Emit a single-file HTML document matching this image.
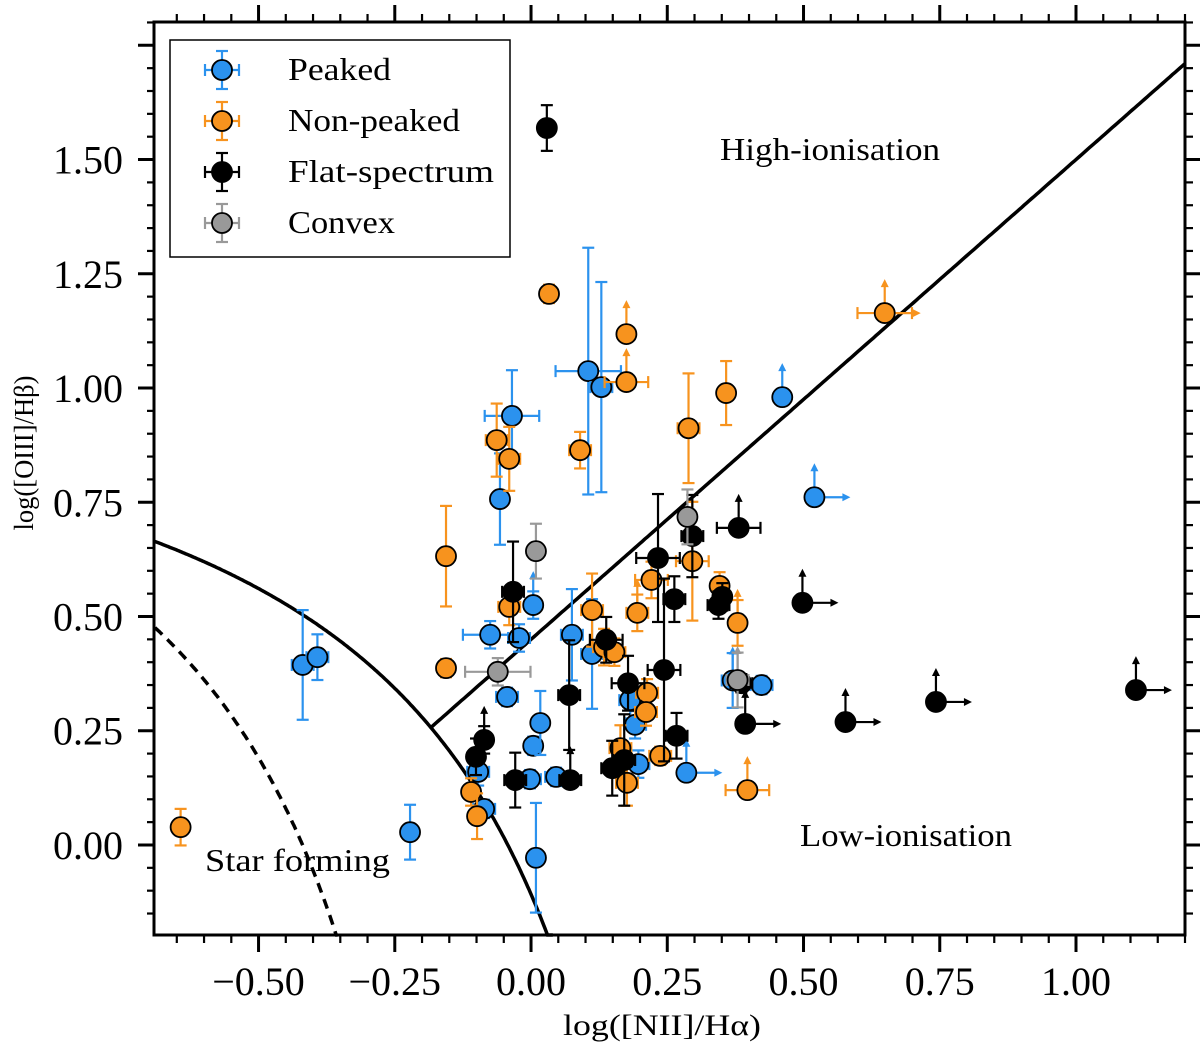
<!DOCTYPE html>
<html><head><meta charset="utf-8"><style>
html,body{margin:0;padding:0;background:#fff;}
svg text{font-family:"Liberation Serif",serif;fill:#000;}
</style></head><body>
<svg id="chart" width="1200" height="1052" xmlns="http://www.w3.org/2000/svg">
<g id="lines"></g>
<g id="marks"></g>
<rect x="154" y="22" width="1031" height="913" fill="none" stroke="#000" stroke-width="3"/>
<g id="ticks"></g>
<text x="662" y="1035" font-size="30" text-anchor="middle" textLength="198" lengthAdjust="spacingAndGlyphs">log([NII]/Hα)</text>
<text transform="translate(33,453) rotate(-90)" font-size="27" text-anchor="middle" textLength="155" lengthAdjust="spacingAndGlyphs">log([OIII]/Hβ)</text>
<text x="720" y="160" font-size="32" textLength="220" lengthAdjust="spacingAndGlyphs">High-ionisation</text>
<text x="800" y="846" font-size="32" textLength="212" lengthAdjust="spacingAndGlyphs">Low-ionisation</text>
<text x="205" y="871" font-size="32" textLength="185" lengthAdjust="spacingAndGlyphs">Star forming</text>
<g>
<rect x="170" y="40" width="340" height="217" fill="#fff" stroke="#000" stroke-width="1.5"/>
<g id="legend-items"></g>
</g>
</svg>
<script>
const NS="http://www.w3.org/2000/svg";
const X0=155,X1=1185,Y0=22,Y1=935;
const xMin=-0.69,xMax=1.2,yMin=-0.197,yMax=1.801;
function sx(v){return X0+(v-xMin)/(xMax-xMin)*(X1-X0);}
function sy(v){return Y1-(v-yMin)/(yMax-yMin)*(Y1-Y0);}
function mk(tag,attrs,parent){const e=document.createElementNS(NS,tag);for(const k in attrs)e.setAttribute(k,attrs[k]);parent.appendChild(e);return e;}

const xTicks=[-0.5,-0.25,0,0.25,0.5,0.75,1.0];
const xTickLabels=["−0.50","−0.25","0.00","0.25","0.50","0.75","1.00"];
const yTicks=[0,0.25,0.5,0.75,1.0,1.25,1.5];
const yTickLabels=["0.00","0.25","0.50","0.75","1.00","1.25","1.50"];

// Peaked
const pkX=[-0.419,-0.392,-0.222,-0.097,-0.086,-0.075,-0.057,-0.044,-0.035,-0.022,-0.002,0.004,0.004,0.009,0.017,0.046,0.075,0.105,0.112,0.129,0.182,0.191,0.197,0.285,0.461,0.52,0.423,0.37];
const pkY=[0.394,0.411,0.028,0.16,0.079,0.46,0.757,0.324,0.939,0.453,0.144,0.217,0.525,-0.028,0.267,0.149,0.46,1.037,0.418,1.002,0.317,0.263,0.177,0.158,0.98,0.761,0.35,0.36];
const pkXe=[0.02,0.02,0.01,0.02,0.02,0.05,0.01,0.02,0.05,0.02,0.02,0.01,0.01,0.01,0.01,0.02,0.02,0.06,0.02,0.02,0.02,0.02,0.02,0,0,0,0.02,0.02];
const pkYe=[0.12,0.05,0.06,0.03,0.02,0.03,0.1,0.02,0.1,0.03,0.02,0.02,0.03,0.12,0.07,0.02,0.1,0.27,0.12,0.23,0.04,0.03,0.03,0,0,0,0.02,0.06];
const pkUp=[0,0,0,0,0,0,0,0,0,0,0,0,1,0,0,0,0,0,0,0,0,0,0,1,1,1,0,1];
const pkRt=[0,0,0,0,0,0,0,0,0,0,0,0,0,0,0,0,0,0,0,0,0,0,0,1,0,1,0,0];
// Non-peaked
const npX=[-0.643,-0.156,-0.156,-0.110,-0.099,-0.063,-0.040,-0.040,0.033,0.09,0.112,0.134,0.153,0.175,0.175,0.164,0.176,0.195,0.213,0.211,0.221,0.237,0.289,0.296,0.358,0.346,0.379,0.397,0.649];
const npY=[0.039,0.632,0.387,0.116,0.063,0.886,0.845,0.521,1.206,0.864,0.514,0.433,0.422,1.118,1.013,0.212,0.136,0.508,0.333,0.291,0.58,0.195,0.912,0.621,0.989,0.567,0.486,0.12,1.164];
const npXe=[0.01,0.01,0.01,0.01,0.01,0.02,0.02,0.02,0.01,0.02,0.02,0.02,0.02,0,0.04,0.02,0.02,0.02,0.02,0.02,0.03,0.02,0.02,0.03,0.01,0.01,0.01,0.04,0.05];
const npYe=[0.04,0.11,0.02,0.03,0.05,0.08,0.07,0.04,0.02,0.04,0.08,0.04,0.03,0,0,0.05,0.05,0.04,0.03,0.03,0.04,0.02,0.12,0.13,0.07,0.03,0.05,0,0];
const npUp=[0,0,0,0,0,0,0,0,0,0,0,0,0,1,1,0,0,1,0,0,0,0,0,0,0,0,1,1,1];
const npRt=[0,0,0,0,0,0,0,0,0,0,0,0,0,0,0,0,0,0,0,0,0,0,0,0,0,0,0,0,1];
// Flat-spectrum
const fsX=[0.029,-0.101,-0.086,-0.033,-0.029,0.07,0.072,0.138,0.149,0.171,0.178,0.233,0.244,0.263,0.267,0.296,0.344,0.351,0.381,0.393,0.498,0.577,0.743,1.11,0.386];
const fsY=[1.569,0.193,0.23,0.554,0.142,0.328,0.142,0.449,0.168,0.186,0.354,0.628,0.383,0.538,0.239,0.676,0.525,0.543,0.694,0.265,0.53,0.269,0.313,0.339,0.354];
const fsXe=[0.01,0.01,0.01,0.02,0.02,0.02,0.02,0.03,0.02,0.02,0.03,0.04,0.03,0.02,0.02,0.02,0.02,0.01,0.04,0,0,0,0,0,0.02];
const fsYe=[0.05,0.04,0.03,0.11,0.06,0.12,0,0.05,0.06,0.1,0.06,0.14,0.2,0.05,0.05,0.09,0.03,0.03,0,0,0,0,0,0,0.02];
const fsUp=[0,0,1,0,0,0,1,0,0,0,0,0,0,0,0,0,0,0,1,1,1,1,1,1,0];
const fsRt=[0,0,0,0,0,0,0,0,0,0,0,0,0,0,0,0,0,0,0,1,1,1,1,1,0];
// Convex
const cvX=[-0.061,0.009,0.287,0.379];
const cvY=[0.379,0.643,0.718,0.361];
const cvXe=[0.06,0.01,0.01,0.02];
const cvYe=[0.03,0.06,0.06,0.06];
const cvUp=[0,0,0,1];
const cvRt=[0,0,0,0];

const series=[
 {name:"peaked",label:"Peaked",tlen:103,fill:"#2b92ee",ec:"#2b92ee",x:pkX,y:pkY,xe:pkXe,ye:pkYe,up:pkUp,rt:pkRt},
 {name:"non-peaked",label:"Non-peaked",tlen:172,fill:"#f7931e",ec:"#f7931e",x:npX,y:npY,xe:npXe,ye:npYe,up:npUp,rt:npRt},
 {name:"flat-spectrum",label:"Flat-spectrum",tlen:206,fill:"#000",ec:"#000",x:fsX,y:fsY,xe:fsXe,ye:fsYe,up:fsUp,rt:fsRt},
 {name:"convex",label:"Convex",tlen:107,fill:"#999",ec:"#999",x:cvX,y:cvY,xe:cvXe,ye:cvYe,up:cvUp,rt:cvRt}
];

const lines=document.getElementById('lines');
function curve(f,a,b,dash,name){let d="";let first=true;for(let i=0;i<=300;i++){const x=a+(b-a)*i/300;const y=f(x);if(y<yMin-0.05||y>yMax)continue;d+=(first?"M":"L")+sx(x).toFixed(1)+","+sy(Math.max(y,yMin)).toFixed(1);first=false;}
 const p=mk('path',{d:d,fill:"none",stroke:"#000","stroke-width":3.5,"stroke-dasharray":dash?"10,7":"none"},lines);
 
 }
curve(x=>0.61/(x-0.47)+1.19,xMin,0.04,false,"kewley-line");
curve(x=>0.61/(x-0.05)+1.3,xMin,-0.355,true,"kauffmann-line");
curve(x=>1.05*x+0.45,-0.183,xMax,false,"seyfert-liner-line");

const marks=document.getElementById('marks');
series.forEach(s=>{
 const g=mk('g',{},marks);
 
 
 for(let i=0;i<s.x.length;i++){
  const pg=mk('g',{},g);
  
  
  const cx=s.x[i],cy=s.y[i],ye=s.ye[i],xe=s.xe[i],ec=s.ec,w=2.2,px=sx(cx),py=sy(cy);
  if(ye>0){mk('line',{x1:px,y1:sy(cy-ye),x2:px,y2:sy(cy+ye),stroke:ec,"stroke-width":w},pg);
   [cy-ye,cy+ye].forEach(v=>mk('line',{x1:px-6,x2:px+6,y1:sy(v),y2:sy(v),stroke:ec,"stroke-width":w},pg));}
  if(xe>0){mk('line',{x1:sx(cx-xe),y1:py,x2:sx(cx+xe),y2:py,stroke:ec,"stroke-width":w},pg);
   [cx-xe,cx+xe].forEach(v=>mk('line',{x1:sx(v),x2:sx(v),y1:py-6,y2:py+6,stroke:ec,"stroke-width":w},pg));}
  if(s.up[i]){mk('line',{x1:px,y1:py,x2:px,y2:py-28,stroke:ec,"stroke-width":w},pg);mk('path',{d:`M${px-4},${py-26}L${px},${py-34}L${px+4},${py-26}Z`,fill:ec},pg);}
  if(s.rt[i]){mk('line',{x1:px,y1:py,x2:px+30,y2:py,stroke:ec,"stroke-width":w},pg);mk('path',{d:`M${px+28},${py-4}L${px+36},${py}L${px+28},${py+4}Z`,fill:ec},pg);}
  mk('circle',{cx:px,cy:py,r:10,fill:s.fill,stroke:"#000","stroke-width":1.8},pg);
 }
});

const tk=document.getElementById('ticks');
function tl(x1,y1,x2,y2,w){mk('line',{x1,y1,x2,y2,stroke:"#000","stroke-width":w},tk);}
for(let v=-0.65;v<=1.2001;v+=0.05){const r=Math.round(v*100)/100;const px=sx(r);const major=Math.abs(r*4-Math.round(r*4))<1e-6;const L=major?17:8;const w=major?3:2.2;tl(px,Y1,px,Y1+L,w);tl(px,Y0,px,Y0-L,w);}
for(let v=-0.15;v<=1.8001;v+=0.05){const r=Math.round(v*100)/100;const py=sy(r);const major=Math.abs(r*4-Math.round(r*4))<1e-6;const L=major?17:8;const w=major?3:2.2;tl(X0,py,X0-L,py,w);tl(X1,py,X1+L,py,w);}
xTicks.forEach((v,i)=>{const t=mk('text',{x:sx(v),y:995,"font-size":40,"text-anchor":"middle"},tk);t.textContent=xTickLabels[i];
 
 });
yTicks.forEach((v,i)=>{const t=mk('text',{x:123,y:sy(v)+14,"font-size":40,"text-anchor":"end"},tk);t.textContent=yTickLabels[i];
 
 });

const lg=document.getElementById('legend-items');
series.forEach((s,i)=>{const y=70+i*51;const g=mk('g',{},lg);
 
 
 mk('line',{x1:222,x2:222,y1:y-19,y2:y+19,stroke:s.ec,"stroke-width":2.2},g);
 mk('line',{x1:216,x2:228,y1:y-19,y2:y-19,stroke:s.ec,"stroke-width":2.2},g);
 mk('line',{x1:216,x2:228,y1:y+19,y2:y+19,stroke:s.ec,"stroke-width":2.2},g);
 mk('line',{x1:205,x2:239,y1:y,y2:y,stroke:s.ec,"stroke-width":2.2},g);
 mk('line',{x1:205,x2:205,y1:y-6,y2:y+6,stroke:s.ec,"stroke-width":2.2},g);
 mk('line',{x1:239,x2:239,y1:y-6,y2:y+6,stroke:s.ec,"stroke-width":2.2},g);
 mk('circle',{cx:222,cy:y,r:10,fill:s.fill,stroke:"#000","stroke-width":1.8},g);
 const t=mk('text',{x:288,y:y+10,"font-size":32,textLength:s.tlen,lengthAdjust:"spacingAndGlyphs"},g);t.textContent=s.label;});
</script>
</body></html>
